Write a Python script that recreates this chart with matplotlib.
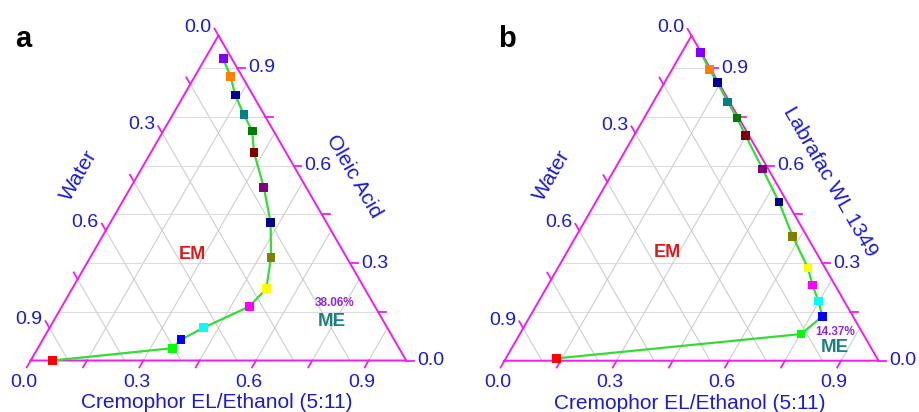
import matplotlib
matplotlib.use("Agg")
import matplotlib.pyplot as plt
import numpy as np

plt.rcParams['font.family'] = ['Liberation Sans', 'DejaVu Sans']

# ternary compositions (fractions), water = 1 - surfactant - oil
surf_a = [0.048, 0.096, 0.136, 0.190, 0.237, 0.274, 0.355, 0.427, 0.481, 0.517, 0.499, 0.410, 0.368, 0.359, 0.059]
oil_a = [0.929, 0.873, 0.817, 0.756, 0.706, 0.641, 0.532, 0.424, 0.318, 0.221, 0.166, 0.101, 0.064, 0.038, 0.000]

surf_b = [0.050, 0.099, 0.142, 0.199, 0.248, 0.299, 0.395, 0.490, 0.579, 0.669, 0.707, 0.747, 0.782, 0.752, 0.135]
oil_b = [0.949, 0.897, 0.855, 0.796, 0.747, 0.692, 0.590, 0.488, 0.383, 0.285, 0.233, 0.184, 0.137, 0.082, 0.007]

point_colors = ["#8000ff", "#ff8000", "#000090", "#008080", "#007a00", "#800000", "#800080",
                "#000080", "#808000", "#ffff00", "#ff00ff", "#00ffff", "#0000ff", "#00ff00", "#ff0000"]

tick_vals = [0.0, 0.15, 0.3, 0.45, 0.6, 0.75, 0.9]
label_vals = [0.0, 0.3, 0.6, 0.9]
grid_vals = [0.15, 0.3, 0.45, 0.6, 0.75, 0.9]

EDGE = "#f01cf0"
BLUE = "#1a1ad8"
R3 = np.sqrt(3) / 2


def tern(s, o):
    s = np.asarray(s, dtype=float)
    o = np.asarray(o, dtype=float)
    return s + o / 2, o * R3


def draw_ternary(ax, surf, oil, oil_name, pct, em_xy, pct_xy, me_xy, oil_title_off):
    ax.set_xlim(0, 1)
    ax.set_ylim(0, R3)
    ax.axis("off")

    # grid
    for v in grid_vals:
        x, y = tern([0, 1 - v], [v, v])
        ax.plot(x, y, color="#dddddd", lw=0.75, zorder=1)
        x, y = tern([v, v], [0, 1 - v])
        ax.plot(x, y, color="#cbcbcb", lw=0.75, zorder=1)
        x, y = tern([1 - v, 0], [0, 1 - v])
        ax.plot(x, y, color="#cbcbcb", lw=0.75, zorder=1)

    # triangle
    x, y = tern([0, 1, 0, 0], [0, 0, 1, 0])
    ax.plot(x, y, color=EDGE, lw=1.4, zorder=2, clip_on=False)

    t = 0.021
    for v in tick_vals:
        # bottom axis (surfactant)
        x, y = tern(v, 0)
        ax.plot([x, x - 0.5 * t], [y, y - R3 * t], color=EDGE, lw=1.3, clip_on=False)
        # right axis (oil)
        x, y = tern(1 - v, v)
        ax.plot([x, x + t], [y, y], color=EDGE, lw=1.3, clip_on=False)
        # left axis (water)
        x, y = tern(0, 1 - v)
        ax.plot([x, x - 0.5 * t], [y, y + R3 * t], color=EDGE, lw=1.3, clip_on=False)

    for v in label_vals:
        lab = f"{v:.1f}"
        ax.annotate(lab, tern(v, 0), xytext=(-5, -16), textcoords="offset points",
                    ha="center", va="center", fontsize=14, color=BLUE)
        ax.annotate(lab, tern(1 - v, v), xytext=(8, 0), textcoords="offset points",
                    ha="left", va="center", fontsize=14, color=BLUE)
        ax.annotate(lab, tern(0, 1 - v), xytext=(-14.8, 5.8), textcoords="offset points",
                    ha="center", va="center", fontsize=14, color=BLUE)

    # axis titles
    ax.annotate("Water", (0.25, R3 / 2), xytext=(-33, 16.5), textcoords="offset points",
                ha="center", va="center", rotation=60, rotation_mode="anchor",
                fontsize=15, color=BLUE)
    ax.annotate(oil_name, (0.75, R3 / 2), xytext=oil_title_off, textcoords="offset points",
                ha="center", va="center", rotation=-60, rotation_mode="anchor",
                fontsize=15, color=BLUE)
    ax.annotate("Cremophor EL/Ethanol (5:11)", (0.5, 0), xytext=(-1, -30.6),
                textcoords="offset points", ha="center", va="center",
                fontsize=15, color=BLUE)

    # boundary curve
    x, y = tern(surf, oil)
    ax.plot(x, y, color="#33dd33", lw=1.6, zorder=3, clip_on=False)
    ax.scatter(x, y, marker="s", s=40, c=point_colors, linewidths=0, zorder=4, clip_on=False)

    ax.text(*em_xy, "EM", color="#e01818", fontsize=13, fontweight="bold", ha="center", va="center")
    ax.text(*pct_xy, pct, color="#8a2be2", fontsize=8.5, fontweight="bold", ha="center", va="center")
    ax.text(*me_xy, "ME", color="#1a8080", fontsize=13.5, fontweight="bold", ha="center", va="center")


W, H = 919, 412
fig = plt.figure(figsize=(W / 100, H / 100), dpi=100)

ax_a = fig.add_axes([30.7 / W, (H - 360.5) / H, 375.5 / W, 325 / H])
draw_ternary(ax_a, surf_a, oil_a, "Oleic Acid", "38.06%",
             (0.431, 0.283), (0.810, 0.152), (0.803, 0.105), (30, 15.8))

ax_b = fig.add_axes([504.5 / W, (H - 360.7) / H, 374 / W, 325 / H])
draw_ternary(ax_b, surf_b, oil_b, "Labrafac WL 1349", "14.37%",
             (0.435, 0.289), (0.884, 0.0765), (0.884, 0.0357), (32.4, 12.2))

fig.text(15 / W, (H - 46.7) / H, "a", fontsize=21, fontweight="bold", ha="left", va="baseline")
fig.text(498 / W, (H - 46.7) / H, "b", fontsize=21, fontweight="bold", ha="left", va="baseline")

fig.savefig("out.png", dpi=100)
